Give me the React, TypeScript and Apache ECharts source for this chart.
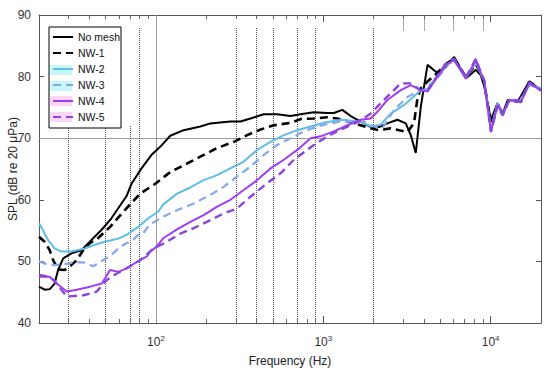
import React, { useEffect, useRef } from 'react';
import * as echarts from 'echarts';

const seriesNames = ['No mesh', 'NW-1', 'NW-2', 'NW-3', 'NW-4', 'NW-5'];

const noMesh = [[20,45.9],[21.6,45.4],[23.2,45.5],[24.8,46.4],[26,48.6],[27.9,50.5],[31.2,51.3],[35.9,51.8],[41.2,53.5],[47.2,55.1],[54.2,57.0],[62.2,59.4],[66.7,60.6],[71.4,62.6],[82,65.1],[94.1,67.3],[106,68.6],[121.8,70.4],[146.3,71.3],[184.2,71.9],[211.5,72.4],[250,72.6],[278.6,72.7],[319.8,72.7],[367,73.2],[441,73.9],[530,73.9],[637,73.6],[731,73.9],[878,74.2],[1057,74.1],[1157,74.1],[1300,74.6],[1457,73.6],[1673,72.7],[1920,71.8],[2152,71.8],[2416,72.4],[2774,73.0],[3111,72.4],[3333,70.5],[3570,67.6],[3825,75.1],[4196,81.9],[4705,80.8],[5040,80.8],[5400,81.6],[6053,83.2],[7114,79.7],[8166,81.1],[8749,80.2],[9157,78.4],[10042,73.0],[11013,75.7],[11800,74.0],[12643,76.2],[14509,75.9],[17023,79.2],[20000,77.8]];

const nw1 = [[20,54.0],[21.6,53.2],[23.2,51.8],[24.3,50.2],[26,48.7],[28.5,48.6],[31.2,49.4],[33.6,50.2],[36.9,51.9],[40.4,53.0],[44.3,53.6],[53.2,55.6],[64,58.1],[80.5,61.0],[99,62.6],[121.8,64.5],[146.3,65.6],[184.2,67.0],[231.9,68.4],[291.6,69.4],[350.7,70.5],[421.3,71.4],[506.2,72.1],[637.3,72.5],[731,73.1],[878,73.2],[1057,73.4],[1213,73.2],[1457,72.6],[1920,71.6],[2152,71.3],[2529,71.6],[3184,71.0],[3487,72.5],[3655,76.5],[3825,78.1],[4196,79.2],[4705,80.4],[5400,82.0],[6053,83.0],[7114,79.9],[8166,82.0],[8749,80.6],[9157,79.0],[10042,72.2],[11013,75.6],[11800,73.9],[12925,76.2],[15184,75.9],[17023,79.2],[20000,77.9]];

const nw2 = [[20,56.2],[21.1,55.1],[22.6,53.5],[24.8,52.1],[27.2,51.6],[31.2,51.6],[37.6,52.1],[43.1,52.7],[49.5,53.2],[59.5,53.7],[66.7,54.3],[78.3,55.6],[89.9,57.0],[103.2,58.1],[111,59.3],[133.6,61.0],[160.5,62.0],[192.8,63.2],[231.9,64.0],[278.6,65.1],[334.7,66.2],[402.5,68.1],[483.6,69.4],[581,70.5],[698.8,71.3],[839.5,71.9],[1008,72.5],[1270,73.0],[1673,72.7],[1920,71.9],[2203,72.2],[2529,74.0],[3039,75.4],[3487,76.8],[3825,77.8],[4196,78.0],[4390,78.9],[5040,80.5],[5400,81.8],[6053,82.7],[7114,79.7],[8166,82.4],[8749,80.4],[9157,79.4],[10042,71.3],[11013,75.7],[11800,73.8],[12925,76.2],[14834,75.9],[17023,78.6],[20000,78.1]];

const nw3 = [[20,50.0],[22,49.6],[25,49.4],[29,49.6],[33,49.9],[37.6,49.8],[42,49.2],[47.2,50.0],[51,50.6],[54,51.0],[60,52.2],[66,52.9],[72,53.3],[78,54.3],[84,54.6],[92,56.0],[111,57.3],[133.6,58.3],[168,59.4],[211.5,60.8],[254,62.1],[305.5,63.8],[367,65.4],[441,67.3],[530,68.9],[637,70.0],[765,71.1],[920,71.9],[1057,72.3],[1270,72.7],[1751,72.7],[2009,71.9],[2256,71.6],[2647,74.6],[3184,76.7],[3825,77.8],[4196,77.8],[4390,78.7],[5040,80.4],[5400,81.8],[6053,82.6],[7114,79.8],[8166,82.5],[8749,80.5],[9157,79.3],[10042,71.5],[11013,75.5],[11800,73.9],[12925,76.1],[14834,75.9],[17023,78.7],[20000,78.0]];

const nw4 = [[20,47.5],[23.2,47.5],[25.5,46.4],[29.3,45.1],[33.6,45.4],[40.4,45.9],[47.5,46.4],[53.2,48.6],[59.7,48.3],[67.1,48.9],[76.9,49.9],[88.3,50.8],[92.4,51.6],[101,52.4],[111,53.8],[133.6,55.2],[160.5,56.4],[192.8,57.5],[231.9,58.9],[278.6,60.0],[334.7,61.6],[402.5,63.2],[483.6,65.1],[581,66.5],[698.8,68.1],[839.5,70.0],[963,70.3],[1157,71.1],[1392,72.1],[1673,73.0],[1920,73.2],[2106,74.3],[2416,76.2],[2904,77.8],[3333,78.6],[3825,77.8],[4196,77.6],[4816,80.0],[5400,81.9],[6053,82.7],[7114,79.7],[8166,82.7],[8749,80.5],[9157,79.4],[10042,71.1],[11013,75.4],[11800,73.8],[12925,76.2],[15184,75.9],[17023,78.9],[20000,77.8]];

const nw5 = [[20,47.8],[22,47.6],[24.5,47.0],[27,45.5],[29.3,44.3],[36.9,44.5],[44.3,45.1],[50.9,47.0],[58,48.0],[66,48.8],[80.5,50.2],[96.7,52.1],[111,52.9],[139.8,54.5],[168,55.4],[211.5,56.7],[254,57.8],[305.5,58.6],[367,60.5],[461.9,62.7],[555,64.3],[666.8,66.5],[878.5,68.9],[1057,70.3],[1270,71.4],[1600,72.6],[1920,74.0],[2152,75.4],[2529,77.3],[2904,78.9],[3333,78.9],[3825,77.8],[4196,77.7],[4816,80.2],[5400,82.1],[6053,82.9],[7114,79.9],[8166,82.9],[8749,80.6],[9157,79.4],[10042,71.0],[11013,75.3],[11800,73.7],[12925,76.3],[15184,76.0],[17023,79.1],[20000,77.7]];

const seriesData = [noMesh, nw1, nw2, nw3, nw4, nw5];

const minorFreqs = [30,40,50,60,70,80,90,200,300,400,500,600,700,800,900,2000,3000,4000,5000,6000,7000,8000,9000];
const dottedFreqs = [30,50,80,300,400,500,700,900,2000];
const lowDottedFreqs = [70];
const shortDottedFreqs = [3000,4000,6000,9000];
const refFreq = 100;
const refLevel = 70;

const FONT = 'Liberation Sans, Arial, Helvetica, sans-serif';
const colors = ['#000000', '#000000', '#5fbde6', '#86a8ea', '#a23cf0', '#8a44e0'];
const lineTypes: any[] = ['solid', [8, 5], 'solid', [8, 5], 'solid', [8, 5]];
const widths = [2, 2.6, 2, 2.2, 2, 2.4];

export default function App() {
  const ref = useRef<HTMLDivElement>(null);
  useEffect(() => {
    document.body.style.margin = '0';
    const chart = echarts.init(ref.current!, null, { renderer: 'svg' });

    const dotted = { type: 'dotted', color: '#555', width: 1 };
    const tickStyle = { type: 'solid', color: '#666', width: 1 };
    const marks: any[] = [];
    marks.push([{ coord: [refFreq, 40], lineStyle: { type: 'solid', color: '#999', width: 1 } }, { coord: [refFreq, 90] }]);
    marks.push([{ coord: [20, refLevel], lineStyle: { type: 'solid', color: '#999', width: 1 } }, { coord: [20000, refLevel] }]);
    dottedFreqs.forEach((f) => marks.push([{ coord: [f, 40], lineStyle: dotted }, { coord: [f, 88] }]));
    lowDottedFreqs.forEach((f) => marks.push([{ coord: [f, 40], lineStyle: dotted }, { coord: [f, 72] }]));
    shortDottedFreqs.forEach((f) => marks.push([{ coord: [f, 87.5], lineStyle: dotted }, { coord: [f, 90] }]));
    minorFreqs.forEach((f) => {
      marks.push([{ coord: [f, 40], lineStyle: tickStyle }, { coord: [f, 40.65] }]);
      marks.push([{ coord: [f, 90], lineStyle: tickStyle }, { coord: [f, 89.35] }]);
    });

    const series: any[] = seriesNames.map((name, i) => ({
      type: 'line',
      name,
      data: seriesData[i],
      symbol: 'none',
      showSymbol: false,
      xAxisIndex: 0,
      yAxisIndex: 0,
      lineStyle: { color: colors[i], width: widths[i], type: lineTypes[i] },
      itemStyle: { color: colors[i] },
      z: 3 + i,
    }));
    series[0].markLine = {
      silent: true,
      symbol: ['none', 'none'],
      label: { show: false },
      animation: false,
      z: 1,
      data: marks,
    };

    const axisColor = '#555';
    const xBase = {
      type: 'log',
      logBase: 10,
      min: 20,
      max: 20000,
      nameMoveOverlap: false,
      axisLine: { show: true, lineStyle: { color: axisColor, width: 1 } },
      axisTick: { show: true, inside: true, length: 7, lineStyle: { color: axisColor } },
      splitLine: { show: false },
    };
    const yBase = {
      type: 'value',
      min: 40,
      max: 90,
      interval: 10,
      nameMoveOverlap: false,
      axisLine: { show: true, lineStyle: { color: axisColor, width: 1 } },
      axisTick: { show: true, inside: true, length: 5, lineStyle: { color: axisColor } },
      splitLine: { show: false },
    };

    const patch = (y: number, fill: string) => ({
      type: 'rect', z: 3, silent: true,
      shape: { x: 50, y, width: 22, height: 10 },
      style: { fill },
    });

    chart.setOption({
      animation: false,
      backgroundColor: '#ffffff',
      textStyle: { fontFamily: FONT },
      grid: { left: 39, right: 9, top: 15, bottom: 51, containLabel: false, outerBoundsMode: 'none' },
      xAxis: [
        {
          ...xBase,
          position: 'bottom',
          name: 'Frequency (Hz)',
          nameLocation: 'middle',
          nameGap: 32,
          nameTextStyle: { fontSize: 12, color: '#222', fontFamily: FONT },
          axisLabel: {
            show: true,
            showMinLabel: false,
            showMaxLabel: false,
            margin: 11,
            color: '#333',
            formatter: (v: number) => `{b|10}{s|${Math.round(Math.log10(v))}}`,
            rich: {
              b: { fontSize: 12, color: '#333', fontFamily: FONT },
              s: { fontSize: 8, color: '#333', fontFamily: FONT, padding: [0, 0, 8, 0] },
            },
          },
        },
        { ...xBase, position: 'top', axisLabel: { show: false } },
      ],
      yAxis: [
        {
          ...yBase,
          position: 'left',
          name: 'SPL (dB re 20 \u03bcPa)',
          nameLocation: 'middle',
          nameGap: 20,
          nameTextStyle: { fontSize: 12, color: '#222', fontFamily: FONT },
          axisLabel: { show: true, margin: 8, fontSize: 12, color: '#333', fontFamily: FONT },
        },
        { ...yBase, position: 'right', axisLabel: { show: false } },
      ],
      legend: {
        orient: 'vertical',
        left: 49,
        top: 27,
        padding: [4, 4, 5, 3],
        itemWidth: 20,
        itemHeight: 12,
        itemGap: 4,
        backgroundColor: 'transparent',
        borderWidth: 0,
        itemStyle: { opacity: 0, borderWidth: 0 },
        data: seriesNames,
        textStyle: { fontSize: 10.5, color: '#111', fontFamily: FONT, lineHeight: 12 },
        z: 10,
      },
      graphic: [
        {
          type: 'rect', z: 2, silent: true,
          shape: { x: 49, y: 27, width: 72, height: 101 },
          style: { fill: '#ffffff', stroke: '#000', lineWidth: 1 },
        },
        patch(65, '#c8f7fb'),
        patch(81, '#c8f7fb'),
        patch(96, '#fbd6f6'),
        patch(112, '#fbd6f6'),
      ],
      series,
    });
    return () => chart.dispose();
  }, []);
  return <div ref={ref} style={{ width: 550, height: 374 }} />;
}
